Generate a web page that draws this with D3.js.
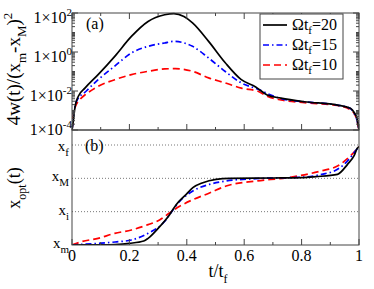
<!DOCTYPE html>
<html>
<head>
<meta charset="utf-8">
<script src="https://cdn.jsdelivr.net/npm/d3@7"></script>
<style>
  body { margin: 0; background: #fff; }
</style>
</head>
<body>
<div id="chart"></div>
<script>
  // panel (a): 4w(t)/(x_m - x_M)^2, log scale
  var tA20 = [0, 0.004, 0.007, 0.012, 0.022, 0.045, 0.091, 0.149, 0.207, 0.265, 0.323, 0.355, 0.39, 0.42, 0.476, 0.534, 0.59, 0.64, 0.68, 0.728, 0.81, 0.925, 0.97, 0.985, 0.993, 1];
  var wA20 = [1e-4, 2.5e-4, 6.3e-4, 2e-3, 5.4e-3, 1.4e-2, 6.9e-2, 0.6, 6.3, 37, 81, 93, 66, 31, 3.5, 0.28, 0.038, 0.016, 6.3e-3, 4.3e-3, 2.8e-3, 1.9e-3, 1.3e-3, 7.2e-4, 4e-4, 1e-4];
  var tA15 = [0, 0.004, 0.008, 0.016, 0.05, 0.091, 0.149, 0.207, 0.265, 0.323, 0.355, 0.42, 0.476, 0.534, 0.59, 0.65, 0.7, 0.73, 0.81, 0.925, 0.97, 0.985, 0.993, 1];
  var wA15 = [1e-4, 3.2e-4, 1e-3, 3e-3, 1e-2, 3.8e-2, 0.19, 0.89, 1.95, 2.9, 3.5, 1.95, 0.49, 0.1, 0.026, 0.012, 5.6e-3, 4e-3, 2.8e-3, 1.9e-3, 1.25e-3, 6.3e-4, 3.2e-4, 1e-4];
  var tA10 = [0, 0.003, 0.006, 0.01, 0.03, 0.05, 0.091, 0.149, 0.207, 0.265, 0.323, 0.36, 0.42, 0.476, 0.534, 0.59, 0.65, 0.68, 0.728, 0.81, 0.925, 0.97, 0.985, 0.993, 1];
  var wA10 = [1e-4, 3.2e-4, 7.9e-4, 1.35e-3, 4e-3, 7.1e-3, 1.74e-2, 3.8e-2, 6.9e-2, 0.102, 0.135, 0.141, 0.102, 0.047, 0.026, 0.014, 9.5e-3, 5.4e-3, 3.5e-3, 2.5e-3, 1.8e-3, 1.07e-3, 6.3e-4, 3.2e-4, 1e-4];

  // panel (b): x_opt(t), in units where x_m=0, x_i=1, x_M=2, x_f=3
  var tB20 = [0, 0.1, 0.15, 0.2, 0.25, 0.265, 0.3, 0.34, 0.363, 0.398, 0.421, 0.456, 0.502, 0.55, 0.7, 0.8, 0.85, 0.925, 0.96, 0.983, 0.994, 1];
  var xB20 = [0, 0.005, 0.015, 0.05, 0.12, 0.2, 0.5, 0.91, 1.21, 1.52, 1.72, 1.87, 1.97, 2.0, 2.01, 2.02, 2.05, 2.12, 2.42, 2.68, 2.9, 2.95];
  var tB15 = [0, 0.091, 0.15, 0.207, 0.265, 0.323, 0.34, 0.375, 0.421, 0.479, 0.537, 0.641, 0.809, 0.87, 0.925, 0.96, 0.99, 1];
  var xB15 = [0, 0.05, 0.09, 0.15, 0.35, 0.71, 0.91, 1.31, 1.62, 1.82, 1.92, 1.99, 2.04, 2.12, 2.27, 2.52, 2.85, 2.95];
  var tB10 = [0, 0.033, 0.091, 0.149, 0.207, 0.265, 0.305, 0.34, 0.375, 0.421, 0.479, 0.537, 0.641, 0.75, 0.867, 0.925, 0.971, 0.995, 1];
  var xB10 = [0, 0.1, 0.2, 0.35, 0.45, 0.61, 0.75, 0.96, 1.16, 1.36, 1.56, 1.77, 1.92, 2.02, 2.22, 2.37, 2.68, 2.9, 2.95];

  var omegaLabels = ['20', '15', '10'];
  var xTicks = [0, 0.2, 0.4, 0.6, 0.8, 1];
  var xTickLabels = ['0', '0.2', '0.4', '0.6', '0.8', '1'];
  var xMinor = [0.1, 0.3, 0.5, 0.7, 0.9];
  var logTicks = [1e2, 1, 1e-2, 1e-4];
  var logTickExp = ['2', '0', '-2', '-4'];
  var levelValues = [0, 1, 2, 3];
  var levelNames = [['x', 'm'], ['x', 'i'], ['x', 'M'], ['x', 'f']];

  var width = 374, height = 289,
    left = 72, right = 359,
    topA = 13, botA = 130, topB = 130, botB = 245,
    serif = '"Liberation Serif", "DejaVu Serif", "Times New Roman", serif';

  var styles = [
    {color: '#000', dash: null},
    {color: '#0000ff', dash: '6,3,1.5,3'},
    {color: '#ff0000', dash: '7,4'}
  ];

  var svg = d3.select('#chart').append('svg')
    .attr('width', width).attr('height', height);

  var x = d3.scaleLinear().domain([0, 1]).range([left, right]);
  var yA = d3.scaleLog().domain([1e-4, 1e2]).range([botA, topA]);
  var yB = d3.scaleLinear().domain([0, 3.45]).range([botB, topB]);

  var defs = svg.append('defs');
  defs.append('clipPath').attr('id', 'clipA').append('rect')
    .attr('x', left).attr('y', topA - 1).attr('width', right - left).attr('height', botA - topA + 1);
  defs.append('clipPath').attr('id', 'clipB').append('rect')
    .attr('x', left).attr('y', topB).attr('width', right - left).attr('height', botB - topB);

  // grid lines of panel (b)
  svg.append('g').selectAll('line')
    .data(levelValues.slice(1))
    .enter().append('line')
    .attr('x1', left).attr('x2', right)
    .attr('y1', function (d) { return yB(d); })
    .attr('y2', function (d) { return yB(d); })
    .attr('stroke', '#777').attr('stroke-width', 1)
    .attr('stroke-dasharray', '1,2');

  // curves
  var lineA = d3.line()
    .x(function (d) { return x(d[0]); })
    .y(function (d) { return yA(d[1]); })
    .curve(d3.curveMonotoneX);
  var lineB = d3.line()
    .x(function (d) { return x(d[0]); })
    .y(function (d) { return yB(d[1]); })
    .curve(d3.curveMonotoneX);

  var seriesA = [d3.zip(tA20, wA20), d3.zip(tA15, wA15), d3.zip(tA10, wA10)];
  var seriesB = [d3.zip(tB20, xB20), d3.zip(tB15, xB15), d3.zip(tB10, xB10)];

  var gA = svg.append('g').attr('clip-path', 'url(#clipA)');
  var gB = svg.append('g').attr('clip-path', 'url(#clipB)');
  [2, 1, 0].forEach(function (i) {
    gA.append('path').datum(seriesA[i])
      .attr('d', lineA).attr('fill', 'none')
      .attr('stroke', styles[i].color).attr('stroke-width', 1.7)
      .attr('stroke-dasharray', styles[i].dash);
    gB.append('path').datum(seriesB[i])
      .attr('d', lineB).attr('fill', 'none')
      .attr('stroke', styles[i].color).attr('stroke-width', 1.7)
      .attr('stroke-dasharray', styles[i].dash);
  });

  // frames
  svg.append('rect').attr('x', left).attr('y', topA)
    .attr('width', right - left).attr('height', botA - topA)
    .attr('fill', 'none').attr('stroke', '#444').attr('stroke-width', 1);
  svg.append('rect').attr('x', left).attr('y', topB)
    .attr('width', right - left).attr('height', botB - topB)
    .attr('fill', 'none').attr('stroke', '#444').attr('stroke-width', 1);

  // x ticks (inward)
  function xTickRow(y0, dir) {
    var g = svg.append('g');
    g.selectAll('.maj').data(xTicks).enter().append('line')
      .attr('x1', x).attr('x2', x)
      .attr('y1', y0).attr('y2', y0 + dir * 6)
      .attr('stroke', '#444');
    g.selectAll('.min').data(xMinor).enter().append('line')
      .attr('x1', x).attr('x2', x)
      .attr('y1', y0).attr('y2', y0 + dir * 3)
      .attr('stroke', '#444');
  }
  xTickRow(topA, 1);
  xTickRow(botA, -1);
  xTickRow(botB, -1);

  // log ticks of panel (a), both sides
  var minorLog = [];
  d3.range(-4, 2).forEach(function (e) {
    d3.range(1, 10).forEach(function (k) {
      var v = k * Math.pow(10, e);
      if (logTicks.indexOf(v) < 0) minorLog.push(v);
    });
  });
  [[left, 1], [right, -1]].forEach(function (s) {
    var g = svg.append('g');
    g.selectAll('.maj').data(logTicks).enter().append('line')
      .attr('x1', s[0]).attr('x2', s[0] + s[1] * 6)
      .attr('y1', yA).attr('y2', yA)
      .attr('stroke', '#444');
    g.selectAll('.min').data(minorLog).enter().append('line')
      .attr('x1', s[0]).attr('x2', s[0] + s[1] * 3)
      .attr('y1', yA).attr('y2', yA)
      .attr('stroke', '#444');
  });

  // log tick labels
  logTicks.forEach(function (v, i) {
    var t = svg.append('text')
      .attr('x', left).attr('y', yA(v) + (i === 3 ? 5 : 10))
      .attr('text-anchor', 'end').attr('font-size', 16);
    t.append('tspan').text('1\u00d710');
    t.append('tspan').attr('dy', -7).attr('font-size', 11).text(logTickExp[i]);
  });

  // x tick labels
  svg.append('g').selectAll('text')
    .data(xTicks).enter().append('text')
    .attr('x', function (d) { return x(d); })
    .attr('y', botB + 16)
    .attr('text-anchor', 'middle').attr('font-size', 16)
    .text(function (d, i) { return xTickLabels[i]; });

  // level labels of panel (b)
  levelValues.forEach(function (v, i) {
    var t = svg.append('text')
      .attr('x', left - 3).attr('y', yB(v) + (i === 3 ? 6 : 3))
      .attr('text-anchor', 'end').attr('font-size', 15);
    t.append('tspan').text(levelNames[i][0]);
    t.append('tspan').attr('dy', 5).attr('font-size', 11).text(levelNames[i][1]);
  });

  // panel labels
  svg.append('text').attr('x', 86).attr('y', 29).attr('font-size', 16).text('(a)');
  svg.append('text').attr('x', 85).attr('y', 151).attr('font-size', 16).text('(b)');

  // axis titles
  var tA = svg.append('text')
    .attr('transform', 'translate(20,69) rotate(-90)')
    .attr('text-anchor', 'middle').attr('font-size', 19);
  tA.append('tspan').text('4w(t)/(x');
  tA.append('tspan').attr('dy', 6).attr('font-size', 13).text('m');
  tA.append('tspan').attr('dy', -6).text('-x');
  tA.append('tspan').attr('dy', 6).attr('font-size', 13).text('M');
  tA.append('tspan').attr('dy', -6).text(')');
  tA.append('tspan').attr('dy', -8).attr('font-size', 13).text('2');

  var tB = svg.append('text')
    .attr('transform', 'translate(20,188) rotate(-90)')
    .attr('text-anchor', 'middle').attr('font-size', 18);
  tB.append('tspan').text('x');
  tB.append('tspan').attr('dy', 6).attr('font-size', 12).text('opt');
  tB.append('tspan').attr('dy', -6).text('(t)');

  var tX = svg.append('text')
    .attr('x', 218).attr('y', 277)
    .attr('text-anchor', 'middle').attr('font-size', 18);
  tX.append('tspan').text('t/t');
  tX.append('tspan').attr('dy', 6).attr('font-size', 12).text('f');

  // legend
  var legend = svg.append('g');
  legend.append('rect')
    .attr('x', 260).attr('y', 14).attr('width', 83).attr('height', 65)
    .attr('fill', '#fff').attr('stroke', '#444');
  omegaLabels.forEach(function (lab, i) {
    var yy = 30 + i * 20;
    legend.append('line')
      .attr('x1', 263).attr('x2', 287)
      .attr('y1', yy - 5).attr('y2', yy - 5)
      .attr('stroke', styles[i].color).attr('stroke-width', 1.7)
      .attr('stroke-dasharray', styles[i].dash);
    var t = legend.append('text').attr('x', 292).attr('y', yy).attr('font-size', 16);
    t.append('tspan').text('\u03a9t');
    t.append('tspan').attr('dy', 4).attr('font-size', 11).text('f');
    t.append('tspan').attr('dy', -4).text('=' + lab);
  });

  svg.selectAll('text').style('font-family', serif).style('fill', '#000');
</script>
</body>
</html>
